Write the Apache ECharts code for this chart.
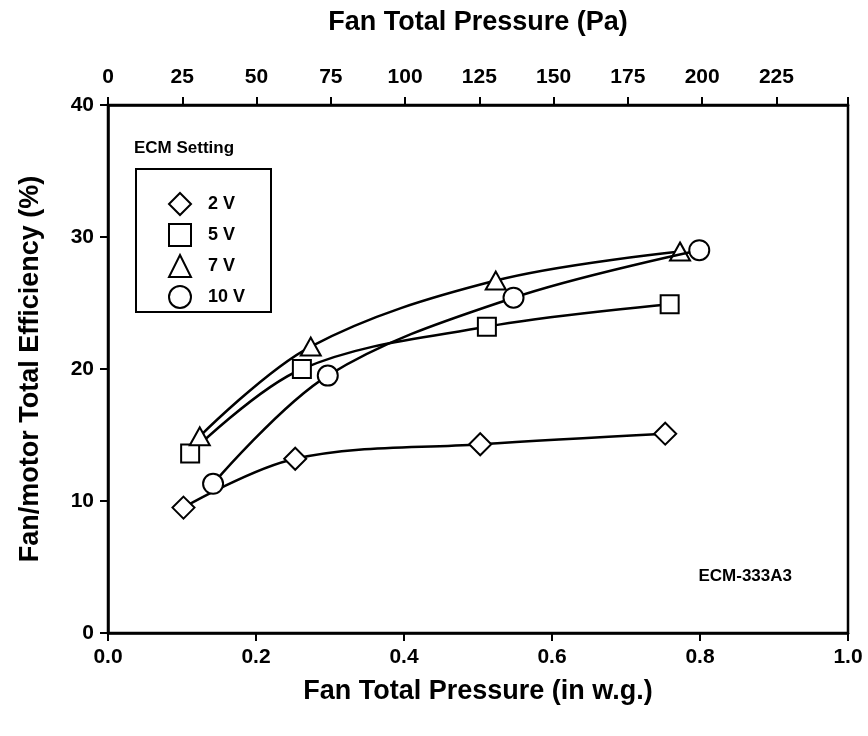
<!DOCTYPE html>
<html>
<head>
<meta charset="utf-8">
<script src="https://cdn.jsdelivr.net/npm/echarts@6/dist/echarts.min.js"></script>
<style>
  html, body { margin: 0; padding: 0; background: #fff; }
  #chart { width: 868px; height: 736px; }
</style>
</head>
<body>
<div id="chart"></div>
<script>
// Fan/motor total efficiency vs. fan total pressure, per ECM voltage setting
const seriesNames = ['2 V', '5 V', '7 V', '10 V'];
const seriesSymbols = ['diamond', 'rect', 'triangle', 'circle'];
const seriesSizes = [22, 18, [20, 18], 20];

// [pressure (in w.g.), efficiency (%)]
const eff2V = [[0.102, 9.5], [0.253, 13.2], [0.503, 14.3], [0.753, 15.1]];
const eff5V = [[0.111, 13.6], [0.262, 20.0], [0.512, 23.2], [0.759, 24.9]];
const eff7V = [[0.124, 14.9], [0.274, 21.7], [0.524, 26.7], [0.773, 28.9]];
const eff10V = [[0.142, 11.3], [0.297, 19.5], [0.548, 25.4], [0.799, 29.0]];
const seriesData = [eff2V, eff5V, eff7V, eff10V];

const PA_PER_INWG = 249.09;
const topTicksPa = [0, 25, 50, 75, 100, 125, 150, 175, 200, 225];

const FONT = 'Liberation Sans, Arial, sans-serif';
const chart = echarts.init(document.getElementById('chart'), null, { renderer: 'canvas' });

const axisLine = { show: true, lineStyle: { color: '#000', width: 2.5 } };
const axisTick = { show: true, inside: false, length: 8, lineStyle: { color: '#000', width: 2 } };
const tickLabel = { color: '#000', fontFamily: FONT, fontWeight: 'bold', fontSize: 21 };
const titleText = { color: '#000', fontFamily: FONT, fontWeight: 'bold', fontSize: 27 };

chart.setOption({
  animation: false,
  backgroundColor: '#fff',
  grid: { left: 108, right: 20, top: 105, bottom: 103, show: true, borderColor: '#000', borderWidth: 2.5 },
  xAxis: [
    {
      type: 'value', position: 'bottom', min: 0, max: 1, interval: 0.2,
      axisLine, axisTick, splitLine: { show: false },
      axisLabel: Object.assign({ margin: 14, formatter: v => v.toFixed(1) }, tickLabel),
      name: 'Fan Total Pressure (in w.g.)', nameLocation: 'middle', nameGap: 45,
      nameTextStyle: titleText
    },
    {
      type: 'value', position: 'top', min: 0, max: PA_PER_INWG, interval: 25,
      axisLine, axisTick, splitLine: { show: false },
      axisLabel: Object.assign({
        margin: 17,
        formatter: v => topTicksPa.indexOf(Math.round(v)) >= 0 && Math.abs(v - Math.round(v)) < 1e-6 ? String(Math.round(v)) : ''
      }, tickLabel),
      name: 'Fan Total Pressure (Pa)', nameLocation: 'middle', nameGap: 69,
      nameTextStyle: titleText
    }
  ],
  yAxis: [
    {
      type: 'value', min: 0, max: 40, interval: 10,
      axisLine, axisTick, splitLine: { show: false },
      axisLabel: Object.assign({ margin: 14 }, tickLabel),
      name: 'Fan/motor Total Efficiency (%)', nameLocation: 'middle', nameGap: 64,
      nameTextStyle: titleText
    }
  ],
  legend: {
    orient: 'vertical', left: 163, top: 187,
    itemWidth: 22, itemHeight: 22, itemGap: 7,
    data: seriesNames.map((n, i) => ({ name: n, icon: seriesSymbols[i] })),
    itemStyle: { color: '#fff', borderColor: '#000', borderWidth: 2 },
    textStyle: { color: '#000', fontFamily: FONT, fontWeight: 'bold', fontSize: 18, padding: [0, 0, 0, 12] },
    selectedMode: false
  },
  graphic: [
    { type: 'rect', shape: { x: 136, y: 169, width: 135, height: 143 },
      style: { fill: 'none', stroke: '#000', lineWidth: 2 }, z: 10 },
    { type: 'text', x: 134, y: 148,
      style: { text: 'ECM Setting', fill: '#000', font: 'bold 17px ' + FONT, textVerticalAlign: 'middle' }, z: 10 },
    { type: 'text', x: 792, y: 576,
      style: { text: 'ECM-333A3', fill: '#000', font: 'bold 17px ' + FONT, textAlign: 'right', textVerticalAlign: 'middle' }, z: 10 }
  ],
  series: seriesNames.map((n, i) => ({
    name: n, type: 'line', xAxisIndex: 0, yAxisIndex: 0,
    data: seriesData[i],
    smooth: 0.35,
    symbol: seriesSymbols[i], symbolSize: seriesSizes[i],
    lineStyle: { color: '#000', width: 2.5 },
    itemStyle: { color: '#fff', borderColor: '#000', borderWidth: 2 },
    z: 3 + i
  }))
});
</script>
</body>
</html>
